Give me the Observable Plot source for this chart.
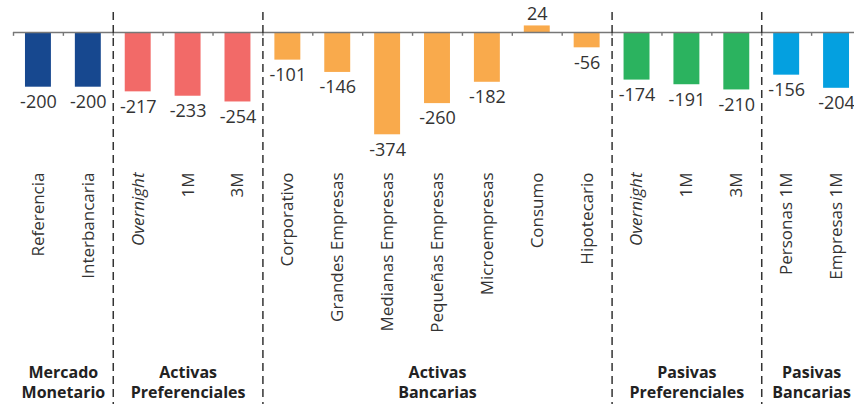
<!DOCTYPE html>
<html>
<head>
<meta charset="utf-8">
<script src="https://cdn.jsdelivr.net/npm/d3@7"></script>
<script src="https://cdn.jsdelivr.net/npm/@observablehq/plot@0.6"></script>
<style>
  html, body { margin: 0; padding: 0; background: #fff; }
  #chart svg { display: block; }
</style>
</head>
<body>
<div id="chart"></div>
<script>
const categories = ["Referencia","Interbancaria","Overnight","1M","3M","Corporativo","Grandes Empresas","Medianas Empresas","Pequeñas Empresas","Microempresas","Consumo","Hipotecario","Overnight","1M","3M","Personas 1M","Empresas 1M"];
const values = [-200,-200,-217,-233,-254,-101,-146,-374,-260,-182,24,-56,-174,-191,-210,-156,-204];
const groupNames = ["Mercado\nMonetario","Activas\nPreferenciales","Activas\nBancarias","Pasivas\nPreferenciales","Pasivas\nBancarias"];
const groupSizes = [2,3,7,3,2];
const groupColors = ["#17488f","#f26a68","#f9aa4c","#2bb35f","#04a0e0"];
const italicLabels = [2, 12];

const groupOf = [];
const groupStart = [];
groupSizes.forEach((n, g) => { groupStart.push(groupOf.length); for (let k = 0; k < n; k++) groupOf.push(groupNames[g]); });

const data = categories.map((c, i) => ({key: i, label: c, value: values[i], group: groupOf[i], italic: italicLabels.includes(i)}));
const groups = groupNames.map((name, g) => ({name, size: groupSizes[g], key: groupStart[g] + Math.floor((groupSizes[g] - 1) / 2)}));

const W = 854, H = 404;
const xRange = [13, 861];
const step = (xRange[1] - xRange[0]) / categories.length;

const chart = Plot.plot({
  width: W,
  height: H,
  marginTop: 12,
  marginBottom: 0,
  marginLeft: 13,
  marginRight: 0,
  style: {fontFamily: "'Open Sans', sans-serif", background: "#fff"},
  x: {type: "band", domain: d3.range(categories.length), range: xRange, round: false, paddingInner: 0.48, paddingOuter: 0.24, axis: null},
  y: {domain: [0, -200], range: [32, 86.7], axis: null},
  color: {domain: groupNames, range: groupColors},
  marks: [
    Plot.barY(data, {x: "key", y: "value", fill: "group"}),
    Plot.ruleY([0], {stroke: "#777", strokeWidth: 1.4}),
    Plot.ruleX(data, {x: "key", y1: 0, y2: -14, dx: -step / 2, stroke: "#777", strokeWidth: 1.4}),
    Plot.ruleX([categories.length - 1], {x: d => d, y1: 0, y2: -14, dx: step / 2, stroke: "#777", strokeWidth: 1.4}),
    Plot.ruleX(groupStart.slice(1), {x: d => d, dx: -step / 2, stroke: "#333", strokeWidth: 1.5, strokeDasharray: "8,5"}),
    Plot.text(data.filter(d => d.value < 0), {x: "key", y: "value", text: d => String(d.value), lineAnchor: "top", dy: 8, fontSize: 18, fill: "#333"}),
    Plot.text(data.filter(d => d.value >= 0), {x: "key", y: "value", text: d => String(d.value), lineAnchor: "bottom", dy: -6, fontSize: 18, fill: "#333"}),
    Plot.text(data.filter(d => !d.italic), {x: "key", text: "label", frameAnchor: "top", dy: 160, rotate: -90, textAnchor: "end", lineAnchor: "middle", fontSize: 17, fill: "#333"}),
    Plot.text(data.filter(d => d.italic), {x: "key", text: "label", frameAnchor: "top", dy: 160, rotate: -90, textAnchor: "end", lineAnchor: "middle", fontSize: 17, fontStyle: "italic", fill: "#333"}),
    Plot.text(groups.filter(g => g.size % 2 === 1), {x: "key", text: "name", frameAnchor: "bottom", lineAnchor: "bottom", dy: -7, lineHeight: 1.25, fontSize: 16, fontWeight: "bold", fill: "#222"}),
    Plot.text(groups.filter(g => g.size % 2 === 0), {x: "key", text: "name", dx: step / 2, frameAnchor: "bottom", lineAnchor: "bottom", dy: -7, lineHeight: 1.25, fontSize: 16, fontWeight: "bold", fill: "#222"})
  ]
});
document.getElementById("chart").appendChild(chart);
</script>
</body>
</html>
